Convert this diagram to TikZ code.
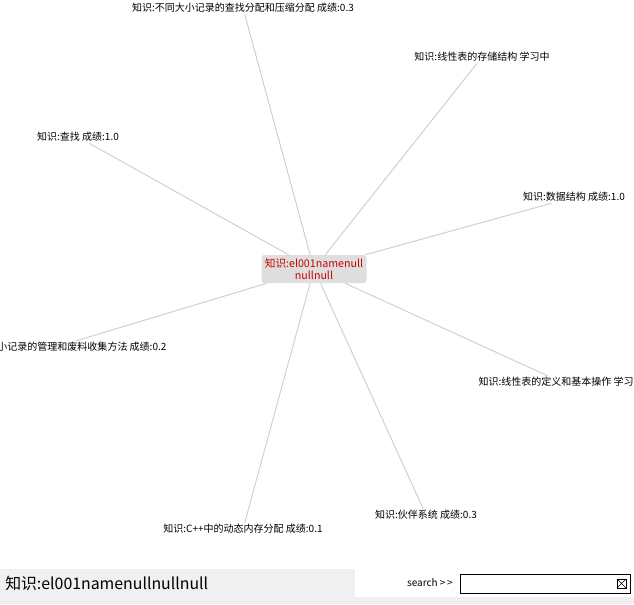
\documentclass[tikz,border=0pt]{standalone}
\usepackage{fontspec}
\setmainfont{Noto Sans CJK SC}
\definecolor{linecolor}{RGB}{208,208,208}
\definecolor{hubcolor}{RGB}{222,222,222}
\definecolor{hubtext}{RGB}{204,0,0}
\definecolor{panelcolor}{RGB}{240,240,240}

\begin{document}
\begin{tikzpicture}[x=0.75pt,y=-0.75pt,
    leaf/.style={inner sep=1pt, font=\fontsize{7.5}{9}\selectfont},
    hub/.style={fill=hubcolor, rounded corners=2pt, text=hubtext, align=center,
      minimum width=78.75pt, minimum height=21pt, inner sep=1pt,
      font=\fontsize{8}{9.5}\selectfont},
    edge/.style={linecolor, line width=0.75pt}]
      \useasboundingbox (0,0) rectangle (634,604);
      \clip (0,0) rectangle (634,604);

      % centre and the knowledge points round it
      \node[hub] (el001) at (314,269) {知识:el001namenull\\nullnull};
      \node[leaf] (k1) at (243,8) {知识:不同大小记录的查找分配和压缩分配 成绩:0.3};
      \node[leaf] (k2) at (482,57) {知识:线性表的存储结构 学习中};
      \node[leaf] (k3) at (78,137) {知识:查找 成绩:1.0};
      \node[leaf] (k4) at (574,197) {知识:数据结构 成绩:1.0};
      \node[leaf, anchor=east] (k5) at (168,347) {知识:不同大小记录的管理和废料收集方法 成绩:0.2};
      \node[leaf, anchor=west] (k6) at (477,382) {知识:线性表的定义和基本操作 学习中};
      \node[leaf] (k7) at (243,529) {知识:C++中的动态内存分配 成绩:0.1};
      \node[leaf] (k8) at (426,515) {知识:伙伴系统 成绩:0.3};

      \foreach \k in {1,...,8}{
          \draw[edge] (el001) -- (k\k);
      }

      % bottom bar
      \fill[panelcolor] (0,569) rectangle (355,604);
      \fill[panelcolor] (0,597) rectangle (634,604);
      \node[anchor=west, inner sep=0, font=\fontsize{11.9}{14}\selectfont] (title) at (5,583) {知识:el001namenullnullnull};
      \node[anchor=east, inner sep=0, font=\fontsize{7.5}{9}\selectfont] (search) at (453,583) {search {>}\,{>}};
      \node[draw, line width=0.75pt, anchor=west, inner sep=0,
        minimum width=127.5pt, minimum height=14.25pt] (searchbox) at (460,583.5) {};
      \draw[line width=0.5pt] (617,579) rectangle (626,588);
      \draw[line width=0.5pt] (617,579) -- (626,588) (617,588) -- (626,579);
\end{tikzpicture}
\end{document}
